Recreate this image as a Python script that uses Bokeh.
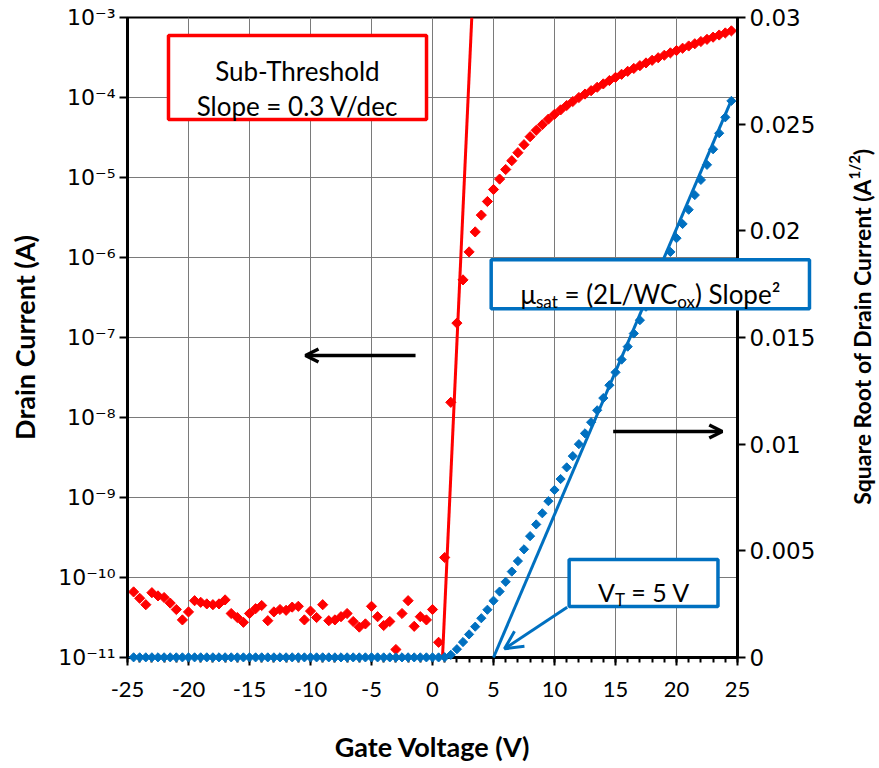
import subprocess

import numpy as np
from bokeh.core.properties import value
from bokeh.embed import file_html
from bokeh.models import (Arrow, BoxAnnotation, CustomJSTickFormatter, FixedTicker,
                          Label, LinearAxis, LinearScale, OpenHead, Range1d,
                          SingleIntervalTicker)
from bokeh.plotting import figure
from bokeh.resources import INLINE

# ---------------------------------------------------------------- data
gate_voltage = np.arange(-24.5, 25.0, 0.5)  # gate sweep, V

log10_drain_current = [
    # -24.5 ... 0.5 V : leakage floor
    -10.18, -10.26, -10.34, -10.19, -10.23, -10.25, -10.32, -10.40, -10.53, -10.43,
    -10.29, -10.31, -10.33, -10.34, -10.33, -10.28, -10.45, -10.50, -10.56, -10.45,
    -10.39, -10.35, -10.54, -10.43, -10.40, -10.41, -10.37, -10.36, -10.53, -10.42,
    -10.50, -10.34, -10.54, -10.53, -10.49, -10.45, -10.55, -10.62, -10.58, -10.36,
    -10.49, -10.60, -10.55, -10.90, -10.45, -10.29, -10.61, -10.49, -10.53, -10.40,
    -10.81,
    # 1.0 ... 24.5 V : turn-on and saturation
    -9.75, -7.81, -6.82, -6.28, -5.93, -5.68, -5.47, -5.30, -5.15, -5.02,
    -4.90, -4.79, -4.69, -4.59, -4.49, -4.41, -4.34, -4.27, -4.21, -4.155,
    -4.10, -4.05, -4.00, -3.957, -3.915, -3.872, -3.830, -3.788, -3.748, -3.710,
    -3.673, -3.637, -3.602, -3.568, -3.535, -3.503, -3.472, -3.442, -3.413, -3.384,
    -3.356, -3.328, -3.300, -3.273, -3.246, -3.219, -3.193, -3.167,
]

drain_current = 10.0 ** np.array(log10_drain_current)   # A
sqrt_drain_current = np.sqrt(drain_current)             # A^1/2

voltage_ticks = [-25, -20, -15, -10, -5, 0, 5, 10, 15, 20, 25]
current_ticks = [1e-11, 1e-10, 1e-9, 1e-8, 1e-7, 1e-6, 1e-5, 1e-4, 1e-3]
sqrt_ticks = [0, 0.005, 0.01, 0.015, 0.02, 0.025, 0.03]

# fitted lines
subthreshold_swing = 0.3        # V/dec
subthreshold_v_at_1e7 = 2.02    # V where the sub-threshold fit crosses 1e-7 A
threshold_voltage = 5.0         # V
saturation_slope = 0.00134      # A^1/2 per V
saturation_fit_end = 24.5       # V

RED = "#FF0000"
BLUE = "#0070C0"
TEXT_FONT = "Lato"
TICK_FONT = "DejaVu Sans"
NBSP = "\u00a0"


# ---------------------------------------------------------------- text helpers
def _font_file(family, bold):
    try:
        style = "bold" if bold else "regular"
        res = subprocess.run(["fc-match", "-f", "%{file}", f"{family}:{style}"],
                             capture_output=True, text=True, timeout=5)
        return res.stdout.strip() or None
    except Exception:
        return None


def text_width(text, size, bold=False):
    try:
        from PIL import ImageFont
        font = ImageFont.truetype(_font_file(TEXT_FONT, bold), size)
        return font.getlength(text.replace(NBSP, " "))
    except Exception:
        return 0.52 * size * len(text)


def rich_text(plot, pieces, x, y, y_range_name="default", bold=False, angle=0.0,
              x_shift=0.0):
    """Draw a run of text pieces (text, size, rise) centred on (x, y).

    Drawn as text glyphs on the annotation level so that the run may
    reach past the plot frame.
    """
    widths = [text_width(t, s, bold) for t, s, _ in pieces]
    pos = -sum(widths) / 2.0
    for (t, s, rise), w in zip(pieces, widths):
        if angle == 0.0:
            xo, yo = x_shift + pos, -rise
        else:  # rotated a quarter turn counter-clockwise, reading upwards
            xo, yo = x_shift - rise, -pos
        plot.text(x=[x], y=[y], text=[t], x_offset=xo, y_offset=yo, angle=angle,
                  y_range_name=y_range_name, text_font=value(TEXT_FONT),
                  text_font_size=f"{s}px",
                  text_font_style="bold" if bold else "normal", text_color="black",
                  text_align="left", text_baseline="alphabetic", level="annotation")
        pos += w


# ---------------------------------------------------------------- figure
p = figure(frame_width=610, frame_height=640,
           x_range=Range1d(-25, 25), y_range=Range1d(1e-11, 1e-3),
           y_axis_type="log", output_backend="svg", toolbar_location=None,
           min_border_left=127, min_border_right=142,
           min_border_top=17, min_border_bottom=111)
p.extra_y_ranges = {"sqrt": Range1d(0, 0.03)}
p.extra_y_scales = {"sqrt": LinearScale()}
p.background_fill_color = "white"
p.border_fill_color = "white"
p.outline_line_color = "black"
p.outline_line_width = 2

# x axis
x_ticker = SingleIntervalTicker(interval=5, num_minor_ticks=5)
xa = p.xaxis[0]
xa.ticker = x_ticker
xa.formatter = CustomJSTickFormatter(code="return String(tick);")
xa.axis_label = "Gate Voltage (V)"
xa.axis_label_text_font = TEXT_FONT
xa.axis_label_text_font_style = "bold"
xa.axis_label_text_font_size = "27px"
xa.axis_label_text_color = "black"
xa.axis_label_standoff = 30
xa.major_label_text_font = TEXT_FONT
xa.major_label_text_font_size = "22px"
xa.major_label_text_color = "black"
xa.major_label_standoff = 16
xa.axis_line_width = 3
xa.major_tick_line_width = 2
xa.major_tick_out = 8
xa.major_tick_in = 0
xa.minor_tick_line_width = 2
xa.minor_tick_out = 5
xa.minor_tick_in = 0

# left (log) axis
current_ticker = FixedTicker(ticks=current_ticks, minor_ticks=[])
ya = p.yaxis[0]
ya.ticker = current_ticker
ya.formatter = CustomJSTickFormatter(code="""
    const sup = {'-': '\u207b', '0': '\u2070', '1': '\u00b9', '2': '\u00b2', '3': '\u00b3',
                 '4': '\u2074', '5': '\u2075', '6': '\u2076', '7': '\u2077', '8': '\u2078',
                 '9': '\u2079'};
    const e = Math.round(Math.log10(tick));
    return '10' + String(e).split('').map(c => sup[c]).join('');
""")
ya.axis_label = "Drain Current (A)"
ya.axis_label_text_font = TEXT_FONT
ya.axis_label_text_font_style = "bold"
ya.axis_label_text_font_size = "27px"
ya.axis_label_text_color = "black"
ya.axis_label_standoff = 14
ya.major_label_text_font = TICK_FONT
ya.major_label_text_font_size = "22px"
ya.major_label_text_color = "black"
ya.major_label_standoff = 4
ya.axis_line_width = 3
ya.major_tick_line_width = 2
ya.major_tick_out = 8
ya.major_tick_in = 0

# right (square-root) axis
ra = LinearAxis(y_range_name="sqrt",
                ticker=FixedTicker(ticks=sqrt_ticks, minor_ticks=[]),
                formatter=CustomJSTickFormatter(
                    code="return String(Math.round(tick * 1000) / 1000);"))
ra.major_label_text_font = TICK_FONT
ra.major_label_text_font_size = "23px"
ra.major_label_text_color = "black"
ra.major_label_standoff = 4
ra.axis_line_width = 3
ra.major_tick_line_width = 2
ra.major_tick_out = 8
ra.major_tick_in = 0
p.add_layout(ra, "right")

# grid
p.xgrid.ticker = x_ticker
p.ygrid.ticker = current_ticker
p.xgrid.grid_line_color = "#7a7a7a"
p.ygrid.grid_line_color = "#7a7a7a"
p.xgrid.grid_line_width = 1
p.ygrid.grid_line_width = 1

# ---------------------------------------------------------------- series
p.scatter(gate_voltage, drain_current, marker="square", angle=np.pi / 4,
          size=7.2, color=RED)

fit_log_i = np.array([-11.0, -3.0])
fit_v = subthreshold_v_at_1e7 + subthreshold_swing * (fit_log_i + 7.0)
p.line(fit_v, 10.0 ** fit_log_i, line_width=3, color=RED)

p.scatter(gate_voltage, sqrt_drain_current, y_range_name="sqrt",
          marker="square", angle=np.pi / 4, size=6.5, color=BLUE, level="annotation")

sat_v = np.array([threshold_voltage, saturation_fit_end])
p.line(sat_v, saturation_slope * (sat_v - threshold_voltage),
       y_range_name="sqrt", line_width=3, color=BLUE, level="annotation")

# ---------------------------------------------------------------- annotations
# mobility call-out (runs across the right axis)
p.quad(left=[4.81], right=[30.9], top=[0.01864], bottom=[0.01635], y_range_name="sqrt",
       fill_color="white", line_color=BLUE, line_width=3.5, level="annotation")
rich_text(p, [("\u03bc", 26, 0), ("sat", 17, -7), (NBSP + "=" + NBSP + "(2L/WC", 26, 0),
              ("ox", 17, -7), (")" + NBSP + "Slope\u00b2", 26, 0)],
          x=17.86, y=0.01702, y_range_name="sqrt")

# right axis title, reading upwards
rich_text(p, [("Square Root of Drain Current (A", 23, 0), ("1/2", 15, 8), (")", 23, 0)],
          x=25, y=0.0155, y_range_name="sqrt", bold=True, angle=np.pi / 2,
          x_shift=124)

# sub-threshold slope call-out
p.add_layout(BoxAnnotation(left=-21.64, right=-0.49, top=10 ** -3.225, bottom=10 ** -4.275,
                           fill_color="white", fill_alpha=1.0,
                           line_color=RED, line_alpha=1.0, line_width=3.5))
for txt, yy in (("Sub-Threshold", 10 ** -3.6625), ("Slope = 0.3 V/dec", 10 ** -4.10)):
    p.add_layout(Label(x=-11.07, y=yy, text=txt, text_font=TEXT_FONT,
                       text_font_size="26px", text_color="black",
                       text_align="center", text_baseline="alphabetic"))

# threshold call-out
p.add_layout(BoxAnnotation(left=11.2, right=23.4, top=0.004594, bottom=0.00239,
                           y_range_name="sqrt", fill_color="white", fill_alpha=1.0,
                           line_color=BLUE, line_alpha=1.0, line_width=3.5))
vt_pieces = [("V", 25, 0), ("T", 17, -7), (NBSP + "=" + NBSP + "5 V", 25, 0)]
vt_widths = [text_width(t, s) for t, s, _ in vt_pieces]
vt_pos = -sum(vt_widths) / 2.0
for (t, s, rise), w in zip(vt_pieces, vt_widths):
    p.add_layout(Label(x=17.3, y=0.00306, x_offset=vt_pos, y_offset=rise, text=t,
                       y_range_name="sqrt", text_font=TEXT_FONT,
                       text_font_size=f"{s}px", text_color="black",
                       text_align="left", text_baseline="alphabetic"))
    vt_pos += w
p.add_layout(Arrow(x_start=11.04, y_start=0.00236, x_end=5.9, y_end=0.000408,
                   y_range_name="sqrt", line_color=BLUE, line_width=3,
                   end=OpenHead(size=18, line_color=BLUE, line_width=3)))

# axis pointers
p.add_layout(Arrow(x_start=-1.39, y_start=10 ** -7.225, x_end=-10.41, y_end=10 ** -7.225,
                   line_color="black", line_width=3.5,
                   end=OpenHead(size=13, line_color="black", line_width=3.5)))
p.add_layout(Arrow(x_start=14.81, y_start=10 ** -8.175, x_end=23.75, y_end=10 ** -8.175,
                   line_color="black", line_width=3.5,
                   end=OpenHead(size=13, line_color="black", line_width=3.5)))

open("out.html", "w").write(file_html(p, INLINE))
